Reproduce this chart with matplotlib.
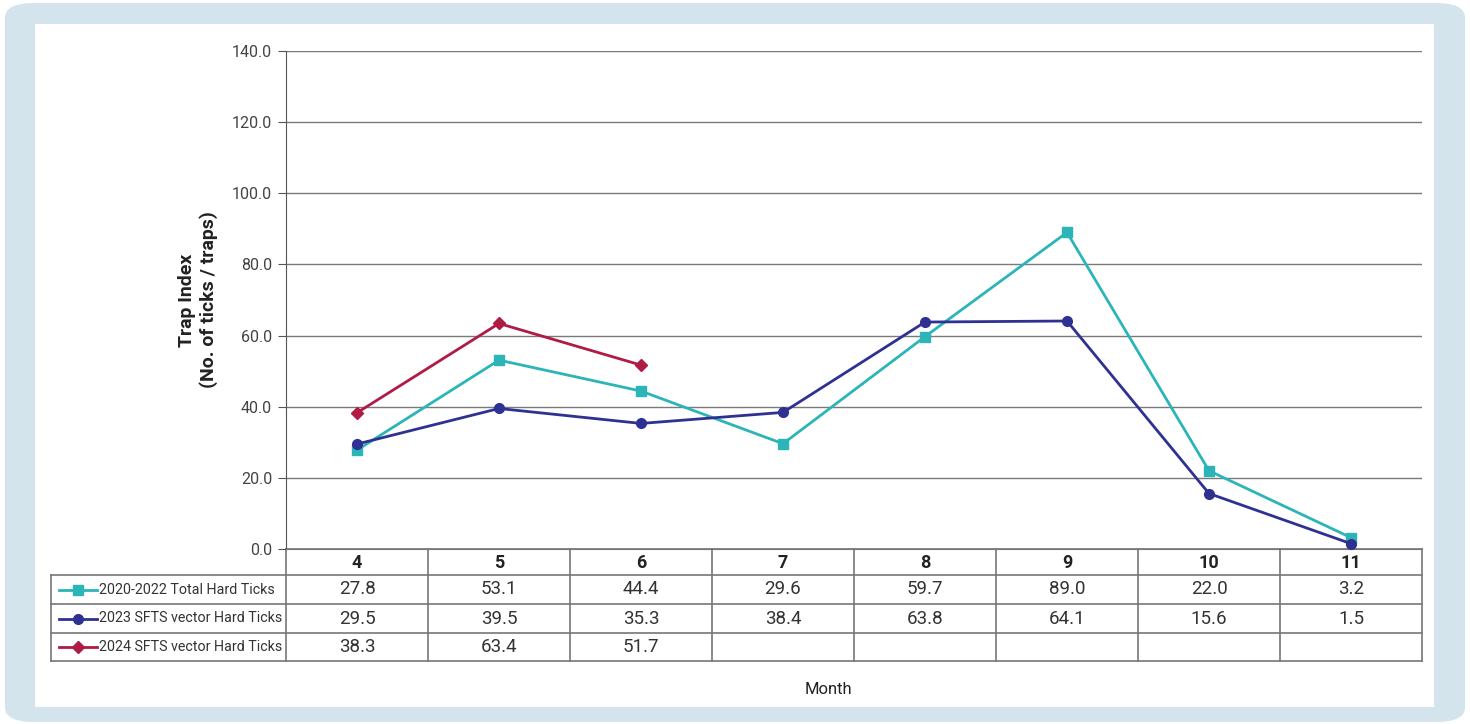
import numpy as np
import matplotlib.pyplot as plt
from matplotlib.patches import FancyBboxPatch, Rectangle
from matplotlib.lines import Line2D

months = [4, 5, 6, 7, 8, 9, 10, 11]
total_2020_2022 = [27.8, 53.1, 44.4, 29.6, 59.7, 89.0, 22.0, 3.2]
sfts_2023 = [29.5, 39.5, 35.3, 38.4, 63.8, 64.1, 15.6, 1.5]
sfts_2024 = [38.3, 63.4, 51.7]

series_names = ['2020-2022 Total Hard Ticks', '2023 SFTS vector Hard Ticks', '2024 SFTS vector Hard Ticks']
series_values = [total_2020_2022, sfts_2023, sfts_2024]
colors = ['#2bb5b8', '#2e3192', '#b01b45']
markers = ['s', 'o', 'D']

W, H = 1470, 724
plt.rcParams['font.family'] = ['Roboto', 'DejaVu Sans']
fig = plt.figure(figsize=(W / 100, H / 100), dpi=100)

def fx(px):
    return px / W

def fy(py):
    return 1 - py / H

# frame
fig.patches.append(FancyBboxPatch((fx(5), fy(722)), fx(1460), 719 / H,
                                  boxstyle='round,pad=0,rounding_size=0.02',
                                  transform=fig.transFigure, fc='#d4e4ec', ec='none', zorder=-2))
fig.patches.append(Rectangle((fx(35), fy(707)), fx(1399), 683 / H,
                             transform=fig.transFigure, fc='white', ec='none', zorder=-1))

x0, x1, ytop, ybot = 286, 1422, 51, 549
ax = fig.add_axes([fx(x0), fy(ybot), fx(x1 - x0), (ybot - ytop) / H])
ax.set_facecolor('none')
ax.set_zorder(2)

for vals, c, m in zip(series_values, colors, markers):
    ms = 6 if m == 'D' else 7
    ax.plot(months[:len(vals)], vals, color=c, lw=2, marker=m, ms=ms, zorder=3, clip_on=False)

ax.set_xlim(3.5, 11.5)
ax.set_ylim(0, 140)
ax.set_yticks(np.arange(0, 141, 20))
ax.set_yticklabels(['%.1f' % v for v in np.arange(0, 141, 20)], fontsize=11.5, color='#444444')
ax.set_xticks([])
ax.grid(axis='y', color='#7a7a7a', lw=1)
ax.tick_params(axis='y', length=6, color='#555555', pad=4)
for s in ['top', 'right']:
    ax.spines[s].set_visible(False)
ax.spines['left'].set_color('#555555')
ax.spines['bottom'].set_color('#777777')
ax.set_ylabel('Trap Index\n(No. of ticks / traps)', fontsize=14, fontweight='bold',
              color='#222222', labelpad=10)

# data table
tc = '#777777'
col_edges = [x0 + i * (x1 - x0) / 8 for i in range(9)]
rows_y = [549, 575, 604, 633, 661]
lx = 51
lines = [((x0, x1), (549, 549))]
for ry in rows_y[1:]:
    lines.append(((lx, x1), (ry, ry)))
for cx in col_edges:
    lines.append(((cx, cx), (549, 661)))
lines.append(((lx, lx), (575, 661)))
for (xa, xb), (ya, yb) in lines:
    fig.add_artist(Line2D([fx(xa), fx(xb)], [fy(ya), fy(yb)], color=tc, lw=1.2,
                          transform=fig.transFigure))

for i, m in enumerate(months):
    cxm = (col_edges[i] + col_edges[i + 1]) / 2
    fig.text(fx(cxm), fy(563), str(m), ha='center', va='center', fontsize=13,
             fontweight='bold', color='#222222')

for r, (name, vals, c, m) in enumerate(zip(series_names, series_values, colors, markers)):
    yc = (rows_y[r + 1] + rows_y[r + 2]) / 2
    fig.add_artist(Line2D([fx(59), fx(97)], [fy(yc), fy(yc)], color=c, lw=2,
                          transform=fig.transFigure))
    fig.add_artist(Line2D([fx(78)], [fy(yc)], color=c, marker=m, ms=6 if m == 'D' else 7,
                          lw=0, transform=fig.transFigure))
    fig.text(fx(99), fy(yc), name, ha='left', va='center', fontsize=10.3, color='#333333')
    for i, v in enumerate(vals):
        cxm = (col_edges[i] + col_edges[i + 1]) / 2
        fig.text(fx(cxm), fy(yc), '%.1f' % v, ha='center', va='center', fontsize=13.5,
                 color='#333333')

fig.text(fx(828), fy(690), 'Month', ha='center', va='center', fontsize=12, color='#222222')

fig.savefig('out.png', dpi=100)
